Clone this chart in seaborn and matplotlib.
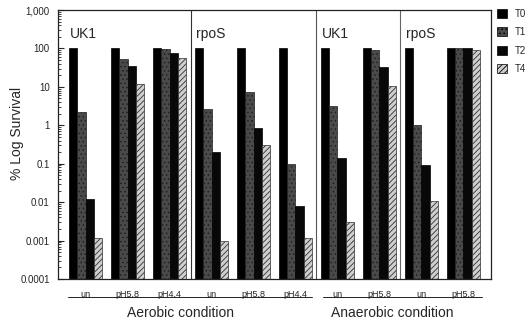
import matplotlib
matplotlib.use("Agg")
import matplotlib.pyplot as plt
import matplotlib.ticker as mticker
from matplotlib.patches import Patch
import numpy as np
import pandas as pd
import seaborn as sns

# groups along the x axis (strain / oxygen / treatment)
group_ids = ["UK1-aer-un", "UK1-aer-5.8", "UK1-aer-4.4",
             "rpoS-aer-un", "rpoS-aer-5.8", "rpoS-aer-4.4",
             "UK1-ana-un", "UK1-ana-5.8",
             "rpoS-ana-un", "rpoS-ana-5.8"]
group_labels = ["un", "pH5.8", "pH4.4", "un", "pH5.8", "pH4.4",
                "un", "pH5.8", "un", "pH5.8"]
times = ["T0", "T1", "T2", "T4"]

# % survival
t0 = [100, 100, 100, 100, 100, 100, 100, 100, 100, 100]
t1 = [2.2, 53, 94, 2.6, 7.4, 0.1, 3.2, 90, 1.0, 100]
t2 = [0.012, 35, 77, 0.2, 0.83, 0.008, 0.14, 33, 0.095, 100]
t4 = [0.0012, 11.8, 55, 0.001, 0.31, 0.0012, 0.003, 10.7, 0.011, 90]

strain_labels = ["UK1", "rpoS", "UK1", "rpoS"]
condition_labels = ["Aerobic condition", "Anaerobic condition"]

rows = []
for t, vals in zip(times, [t0, t1, t2, t4]):
    for g, v in zip(group_ids, vals):
        rows.append({"group": g, "time": t, "survival": v})
df = pd.DataFrame(rows)

sns.set_style("ticks")
plt.rcParams["font.family"] = ["Liberation Sans", "DejaVu Sans"]
plt.rcParams["hatch.linewidth"] = 0.6

fig = plt.figure(figsize=(5.32, 3.29), dpi=100)
ax = fig.add_axes([58 / 532, 1 - 279 / 329, 433 / 532, 269 / 329])

face = {"T0": "#000000", "T1": "#4a4a4a", "T2": "#080808", "T4": "#cfcfcf"}
hatches = {"T0": None, "T1": "....", "T2": None, "T4": "//////"}

sns.barplot(data=df, x="group", y="survival", hue="time",
            order=group_ids, hue_order=times, palette=face,
            width=0.79, edgecolor="black", linewidth=0.5,
            saturation=1, legend=False, ax=ax)

for cont, t in zip(ax.containers, times):
    for bar in cont:
        if t == "T1":
            bar.set_hatch("....")
            bar.set_edgecolor("#202020")
        elif t == "T4":
            bar.set_hatch("//////")
            bar.set_edgecolor("#303030")

ax.set_yscale("log")
ax.set_ylim(1e-4, 1e3)
ax.set_xlim(-0.655, 9.655)

ytick_vals = [1e-4, 1e-3, 1e-2, 1e-1, 1, 10, 100, 1000]
ytick_txt = ["0.0001", "0.001", "0.01", "0.1", "1", "10", "100", "1,000"]
ax.yaxis.set_major_locator(mticker.FixedLocator(ytick_vals))
ax.yaxis.set_major_formatter(mticker.FixedFormatter(ytick_txt))
ax.yaxis.set_minor_locator(mticker.LogLocator(base=10, subs=np.arange(2, 10)))
ax.yaxis.set_minor_formatter(mticker.NullFormatter())
ax.tick_params(axis="y", which="major", direction="in", length=4, width=0.8,
               labelsize=7, pad=6)
ax.tick_params(axis="y", which="minor", direction="in", length=2, width=0.6)

ax.set_xticks(range(len(group_ids)))
ax.set_xticklabels(group_labels, fontsize=6.5)
ax.tick_params(axis="x", length=0, pad=8)

ax.set_xlabel("")
ax.set_ylabel("% Log Survival", fontsize=10)
ax.yaxis.set_label_coords(-0.078, 0.54)

for s in ax.spines.values():
    s.set_visible(True)
    s.set_linewidth(0.9)
    s.set_color("#222222")

# panel dividers
for xv, c in zip([2.5, 5.5, 7.5], ["#333333", "#555555", "#666666"]):
    ax.axvline(xv, color=c, lw=0.8)

# strain labels in each panel
for xv, lab in zip([-0.38, 2.62, 5.62, 7.62], strain_labels):
    ax.text(xv, 0.912, lab, transform=ax.get_xaxis_transform(),
            fontsize=10, ha="left", va="center")

# underline below treatment labels
for x0, x1 in [(-0.42, 5.4), (5.65, 9.45)]:
    ax.plot([x0, x1], [-0.068, -0.068], transform=ax.get_xaxis_transform(),
            color="#222222", lw=0.7, clip_on=False)

for xv, lab in zip([2.27, 7.3], condition_labels):
    ax.text(xv, -0.1, lab, transform=ax.get_xaxis_transform(),
            fontsize=10, ha="center", va="top")

handles = [Patch(facecolor=face[t], edgecolor="black", linewidth=0.5,
                 hatch=hatches[t]) for t in times]
fig.legend(handles, times, loc="upper left", bbox_to_anchor=(497 / 532, 1 - 9 / 329),
           frameon=False, fontsize=7, handlelength=1.05, handleheight=1.05,
           labelspacing=0.85, handletextpad=0.8, borderaxespad=0, borderpad=0)

fig.savefig("out.png", dpi=100)
